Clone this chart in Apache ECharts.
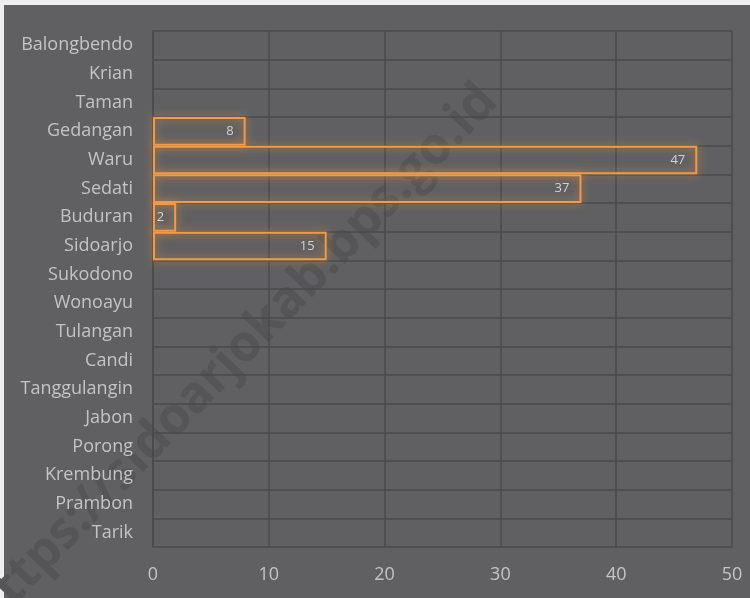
<!DOCTYPE html>
<html>
<head>
<meta charset="utf-8">
<script src="https://cdn.jsdelivr.net/npm/echarts@6/dist/echarts.min.js"></script>
<style>
html,body{margin:0;padding:0;background:#eeeeee;}
#c{width:750px;height:598px;}
</style>
</head>
<body>
<div id="c"></div>
<script>
var categories = ["Balongbendo","Krian","Taman","Gedangan","Waru","Sedati","Buduran","Sidoarjo","Sukodono","Wonoayu","Tulangan","Candi","Tanggulangin","Jabon","Porong","Krembung","Prambon","Tarik"];
var values = [0,0,0,8,47,37,2,15,0,0,0,0,0,0,0,0,0,0];
var xTicks = [0,10,20,30,40,50];

var chart = echarts.init(document.getElementById('c'), null, {renderer:'canvas'});
var seriesData = values.map(function(v){
  return v === 0 ? {value:v, itemStyle:{borderWidth:0, shadowBlur:0}, label:{show:false}} : v;
});
chart.setOption({
  backgroundColor: 'transparent',
  animation: false,
  graphic: [
    {type:'rect', shape:{x:4,y:5,width:746,height:593}, style:{fill:'#606062'}, z:-100, silent:true},
    {type:'text', x:234, y:357, rotation: 46*Math.PI/180, z:-50, silent:true,
     style:{text:'https://sidoarjokab.bps.go.id', font:'bold 51px "Open Sans", sans-serif', fill:'#555557', align:'center', verticalAlign:'middle'}}
  ],
  grid: {left:153, right:18, top:31, bottom:51},
  xAxis: {
    type:'value', min:xTicks[0], max:xTicks[xTicks.length-1], interval:10,
    axisLine:{show:false}, axisTick:{show:false},
    axisLabel:{color:'#c4c4c4', fontSize:18, fontFamily:'Open Sans', margin:19},
    splitLine:{show:true, lineStyle:{color:'#4a4a4c', width:1.5}}
  },
  yAxis: {
    type:'category', data:categories, inverse:true,
    axisLine:{show:true, lineStyle:{color:'#4a4a4c', width:1.5}},
    axisTick:{show:false},
    axisLabel:{color:'#c4c4c4', fontSize:18, fontFamily:'Open Sans', margin:20},
    splitLine:{show:true, lineStyle:{color:'#4a4a4c', width:1.5}}
  },
  series: [{
    type:'bar', data:seriesData, barCategoryGap:'0%',
    itemStyle:{color:'rgba(0,0,0,0)', borderColor:'#f39a45', borderWidth:2, shadowColor:'rgba(243,154,69,0.85)', shadowBlur:10},
    label:{show:true, position:'insideRight', distance:12, color:'#d4d4d4', fontSize:13, fontFamily:'Open Sans'}
  }]
});
</script>
</body>
</html>
